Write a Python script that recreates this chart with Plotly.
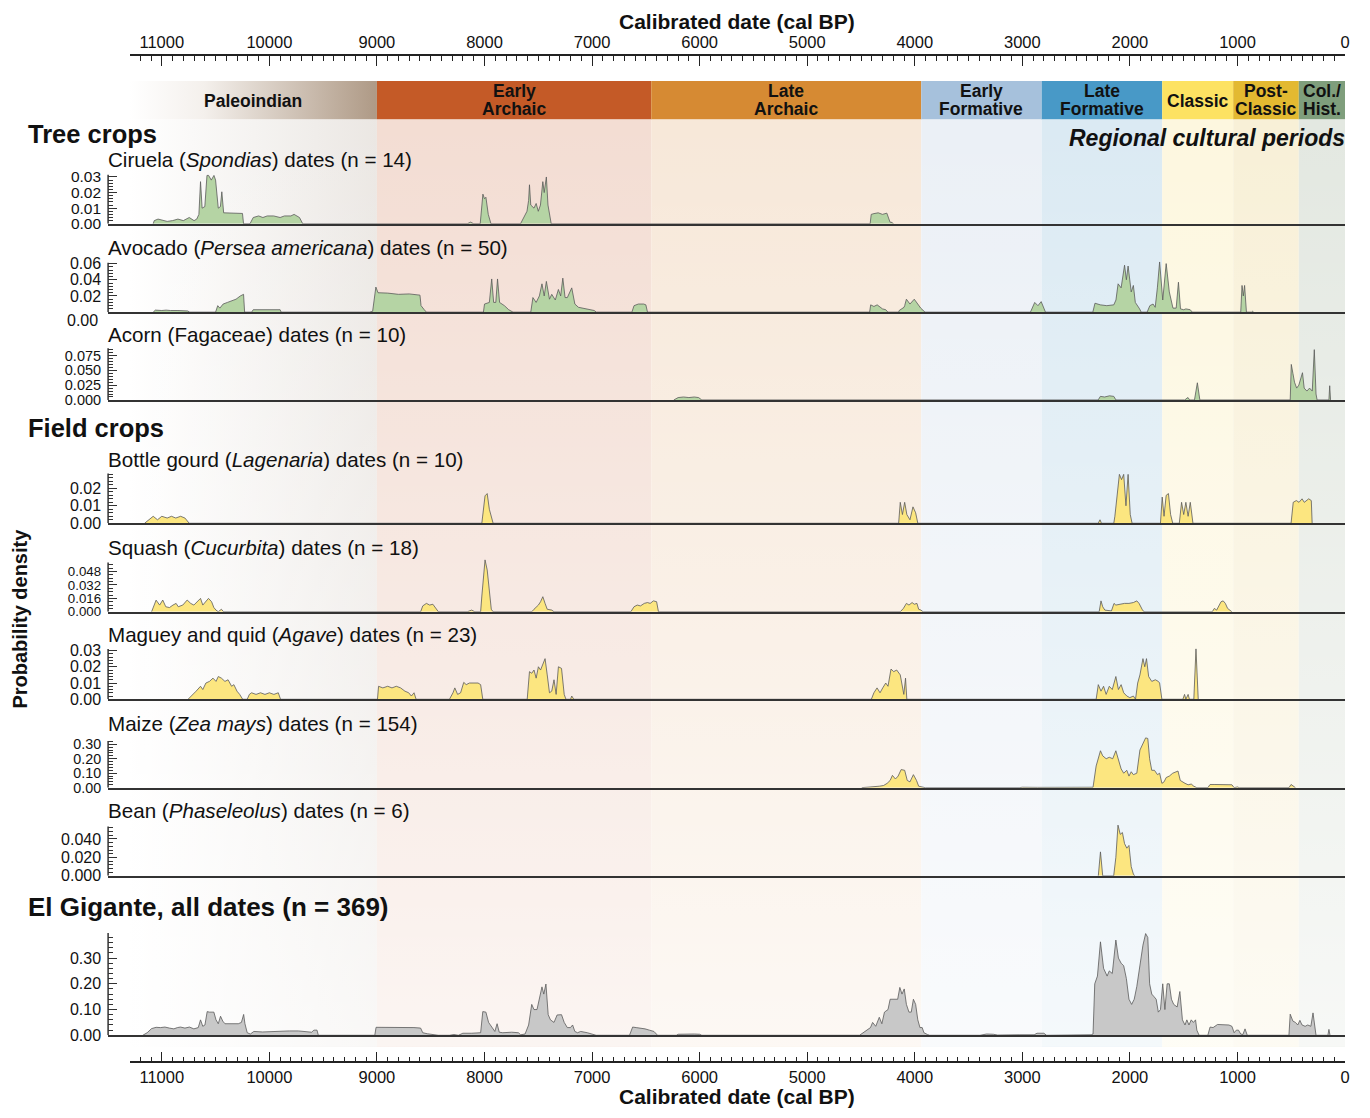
import plotly.graph_objects as go

# ---------------------------------------------------------------------------
# Regional cultural periods (cal BP)
# ---------------------------------------------------------------------------
PERIOD_LABELS = [["Paleoindian"], ["Early", "Archaic"], ["Late", "Archaic"],
                 ["Early", "Formative"], ["Late", "Formative"], ["Classic"],
                 ["Post-", "Classic"], ["Col./", "Hist."]]
PERIOD_START = [11300, 9000, 6450, 3940, 2820, 1700, 1040, 430]
PERIOD_END = [9000, 6450, 3940, 2820, 1700, 1040, 430, 0]

DATE_TICKS = [11000, 10000, 9000, 8000, 7000, 6000, 5000, 4000, 3000, 2000, 1000, 0]

# ---------------------------------------------------------------------------
# Summed probability densities: (cal BP, density)
# ---------------------------------------------------------------------------
CIRUELA = [
    (11080, 0), (11070, 0.002), (11035, 0.003), (11010, 0.0025), (10950, 0.0015), (10900, 0.002),
    (10850, 0.003), (10800, 0.002), (10745, 0.004), (10700, 0.002), (10675, 0.003), (10655, 0.006),
    (10640, 0.027), (10625, 0.01), (10600, 0.011), (10580, 0.031), (10565, 0.031), (10540, 0.028),
    (10515, 0.031), (10500, 0.028), (10475, 0.01), (10455, 0.011), (10442, 0.0205), (10425, 0.007),
    (10400, 0.007), (10330, 0.0068), (10250, 0.0066), (10240, 0),
    (10180, 0), (10150, 0.004), (10100, 0.005), (10060, 0.004), (10020, 0.005), (9960, 0.005),
    (9900, 0.004), (9860, 0.005), (9800, 0.005), (9770, 0.006), (9720, 0.004), (9690, 0),
    (8160, 0), (8130, 0.001), (8100, 0), (8040, 0), (8025, 0.012), (8015, 0.019), (8000, 0.016),
    (7987, 0.017), (7965, 0.006), (7940, 0),
    (7665, 0), (7645, 0.003), (7605, 0.008), (7590, 0.015), (7582, 0.025), (7570, 0.012),
    (7540, 0.01), (7520, 0.013), (7500, 0.008), (7480, 0.012), (7458, 0.027), (7445, 0.02),
    (7425, 0.03), (7410, 0.012), (7380, 0),
    (4415, 0), (4405, 0.006), (4380, 0.0065), (4340, 0.007), (4300, 0.006), (4260, 0.0068),
    (4230, 0.001), (4210, 0.0008), (4200, 0),
]

AVOCADO = [
    (11080, 0), (11060, 0.0025), (11000, 0.002), (10960, 0.0025), (10920, 0.002), (10880, 0.0025),
    (10850, 0.002), (10760, 0.0015), (10740, 0),
    (10500, 0), (10480, 0.008), (10460, 0.005), (10430, 0.01), (10390, 0.012), (10350, 0.014),
    (10310, 0.016), (10270, 0.02), (10240, 0.022), (10230, 0),
    (10165, 0), (10150, 0.003), (10100, 0.003), (10050, 0.0035), (9990, 0.003), (9900, 0.003), (9890, 0),
    (9070, 0), (9040, 0.001), (9010, 0.031), (8990, 0.024), (8900, 0.0235), (8800, 0.022),
    (8700, 0.0225), (8600, 0.021), (8590, 0.008), (8560, 0.003), (8540, 0),
    (8010, 0), (8000, 0.01), (7955, 0.012), (7933, 0.041), (7915, 0.012), (7895, 0.012),
    (7879, 0.041), (7860, 0.012), (7815, 0.008), (7775, 0.003), (7735, 0),
    (7570, 0), (7550, 0.018), (7520, 0.012), (7490, 0.02), (7466, 0.035), (7445, 0.02),
    (7425, 0.038), (7396, 0.016), (7375, 0.022), (7342, 0.015), (7313, 0.028), (7292, 0.02),
    (7272, 0.042), (7251, 0.018), (7230, 0.018), (7189, 0.03), (7160, 0.01), (7127, 0.006),
    (7044, 0.004), (6980, 0.002), (6960, 0),
    (6630, 0), (6610, 0.008), (6570, 0.01), (6520, 0.01), (6500, 0.009), (6485, 0),
    (4420, 0), (4410, 0.009), (4380, 0.007), (4350, 0.009), (4320, 0.006), (4300, 0.004),
    (4270, 0.003), (4250, 0),
    (4150, 0), (4145, 0.002), (4100, 0.006), (4094, 0.008), (4078, 0.016), (4045, 0.01),
    (4005, 0.016), (3970, 0.01), (3945, 0.005), (3905, 0),
    (2925, 0), (2885, 0.012), (2855, 0.008), (2825, 0.013), (2785, 0),
    (2345, 0), (2325, 0.011), (2275, 0.009), (2215, 0.008), (2150, 0.009), (2130, 0.015),
    (2110, 0.035), (2082, 0.03), (2050, 0.058), (2033, 0.04), (2017, 0.057), (1988, 0.025),
    (1968, 0.033), (1950, 0.012), (1910, 0.004), (1895, 0),
    (1840, 0), (1815, 0.008), (1785, 0.01), (1765, 0.006), (1745, 0.03), (1724, 0.062),
    (1695, 0.015), (1663, 0.06), (1634, 0.025), (1600, 0.005), (1570, 0.005), (1549, 0.037),
    (1530, 0.004), (1500, 0.003), (1480, 0.004), (1440, 0.003), (1420, 0),
    (970, 0), (958, 0.033), (946, 0.02), (934, 0.033), (917, 0), (870, 0), (860, 0.001), (850, 0),
]

ACORN = [
    (6240, 0), (6200, 0.004), (6150, 0.005), (6100, 0.004), (6050, 0.005), (6010, 0.004), (5980, 0),
    (2295, 0), (2275, 0.006), (2235, 0.005), (2190, 0.007), (2150, 0.006), (2130, 0),
    (1490, 0), (1470, 0.003), (1460, 0.004), (1445, 0),
    (1400, 0), (1373, 0.029), (1350, 0),
    (510, 0), (500, 0.06), (485, 0.045), (470, 0.03), (450, 0.02), (430, 0.025), (396, 0.046),
    (380, 0.02), (355, 0.015), (330, 0.02), (305, 0.015), (286, 0.085), (270, 0.01), (260, 0),
    (150, 0), (143, 0.024), (135, 0),
]

BOTTLE_GOURD = [
    (11160, 0), (11120, 0.002), (11080, 0.004), (11040, 0.002), (11000, 0.004), (10950, 0.003),
    (10910, 0.004), (10870, 0.003), (10825, 0.004), (10785, 0.003), (10745, 0),
    (8025, 0), (7995, 0.0157), (7975, 0.017), (7955, 0.008), (7933, 0.003), (7920, 0),
    (4150, 0), (4135, 0.012), (4115, 0.005), (4094, 0.012), (4074, 0.005), (4045, 0.002),
    (4017, 0.0094), (3992, 0.006), (3972, 0),
    (2295, 0), (2278, 0.002), (2265, 0), (2150, 0), (2140, 0.004), (2098, 0.028), (2078, 0.025),
    (2058, 0.028), (2037, 0.01), (2017, 0.028), (1997, 0.005), (1980, 0),
    (1716, 0), (1700, 0.015), (1683, 0.004), (1663, 0.016), (1642, 0.017), (1622, 0.005), (1602, 0),
    (1541, 0), (1520, 0.012), (1500, 0.005), (1480, 0.012), (1459, 0.004), (1439, 0.012), (1414, 0),
    (502, 0), (482, 0.012), (453, 0.013), (428, 0.012), (400, 0.014), (379, 0.012), (359, 0.013),
    (338, 0.014), (314, 0.013), (306, 0),
]

SQUASH = [
    (11095, 0), (11053, 0.0139), (11020, 0.008), (10991, 0.014), (10963, 0.006), (10929, 0.005),
    (10896, 0.008), (10867, 0.01), (10847, 0.006), (10805, 0.008), (10764, 0.014), (10731, 0.01),
    (10702, 0.008), (10673, 0.012), (10640, 0.016), (10619, 0.008), (10590, 0.012), (10566, 0.016),
    (10537, 0.012), (10516, 0.005), (10496, 0.002), (10475, 0), (10446, 0.003), (10425, 0),
    (8594, 0), (8574, 0.007), (8540, 0.01), (8510, 0.008), (8480, 0.009), (8450, 0.004), (8429, 0),
    (8160, 0), (8140, 0.001), (8120, 0.002), (8090, 0), (8036, 0), (8024, 0.02), (8008, 0.05),
    (7995, 0.062), (7975, 0.05), (7954, 0.02), (7937, 0.003), (7920, 0),
    (7561, 0), (7540, 0.003), (7499, 0.008), (7479, 0.012), (7458, 0.018), (7437, 0.01),
    (7417, 0.003), (7375, 0.002), (7354, 0),
    (6640, 0), (6610, 0.006), (6580, 0.008), (6550, 0.007), (6515, 0.01), (6485, 0.011),
    (6460, 0.01), (6430, 0.013), (6400, 0.012), (6383, 0),
    (4135, 0), (4106, 0.004), (4078, 0.01), (4054, 0.008), (4025, 0.011), (4005, 0.009),
    (3980, 0.01), (3964, 0.003), (3943, 0.002), (3923, 0),
    (2286, 0), (2269, 0.013), (2253, 0.006), (2233, 0.002), (2172, 0.001), (2148, 0.01),
    (2131, 0.008), (2090, 0.009), (2050, 0.01), (2009, 0.01), (1968, 0.011), (1936, 0.013),
    (1915, 0.01), (1887, 0.003), (1870, 0),
    (1235, 0), (1215, 0.004), (1194, 0.002), (1153, 0.012), (1133, 0.013), (1113, 0.01),
    (1092, 0.004), (1052, 0),
]

MAGUEY = [
    (10756, 0), (10723, 0.002), (10681, 0.005), (10640, 0.008), (10619, 0.006), (10590, 0.01),
    (10557, 0.011), (10524, 0.013), (10496, 0.011), (10475, 0.014), (10446, 0.013), (10413, 0.011),
    (10384, 0.012), (10351, 0.008), (10330, 0.009), (10301, 0.005), (10276, 0.003), (10248, 0),
    (10206, 0), (10186, 0.003), (10165, 0.004), (10124, 0.003), (10082, 0.004), (10041, 0.003),
    (10000, 0.004), (9958, 0.003), (9917, 0.004), (9896, 0),
    (8995, 0), (8985, 0.008), (8945, 0.007), (8900, 0.008), (8860, 0.007), (8820, 0.008),
    (8780, 0.007), (8740, 0.005), (8705, 0.004), (8680, 0.002), (8655, 0.004), (8636, 0),
    (8326, 0), (8293, 0.004), (8276, 0.007), (8250, 0.003), (8222, 0.004), (8193, 0.0104),
    (8170, 0.009), (8140, 0.01), (8100, 0.01), (8060, 0.01), (8036, 0.009), (8016, 0),
    (7603, 0), (7582, 0.017), (7561, 0.016), (7540, 0.018), (7520, 0.013), (7499, 0.02),
    (7479, 0.018), (7458, 0.022), (7437, 0.025), (7417, 0.015), (7396, 0.004), (7375, 0.005),
    (7354, 0.012), (7334, 0.003), (7313, 0.02), (7284, 0.019), (7259, 0.003), (7243, 0),
    (7200, 0), (7189, 0.002), (7170, 0),
    (4404, 0), (4380, 0.004), (4351, 0.007), (4323, 0.004), (4298, 0.007), (4270, 0.01),
    (4249, 0.008), (4221, 0.0186), (4196, 0.017), (4168, 0.018), (4135, 0.015), (4119, 0.01),
    (4102, 0.003), (4086, 0.013), (4074, 0),
    (2314, 0), (2294, 0.009), (2269, 0.005), (2245, 0.008), (2221, 0.003), (2192, 0.008),
    (2164, 0.006), (2131, 0.014), (2107, 0.006), (2082, 0.009), (2058, 0.004), (2029, 0.002),
    (2001, 0.001), (1968, 0.002), (1948, 0), (1928, 0.01), (1907, 0.015), (1879, 0.025),
    (1862, 0.02), (1846, 0.025), (1826, 0.014), (1797, 0.011), (1764, 0.012), (1736, 0.011),
    (1724, 0.01), (1703, 0),
    (1508, 0), (1492, 0.003), (1480, 0), (1459, 0.003), (1447, 0), (1406, 0), (1386, 0.031), (1365, 0),
]

MAIZE = [
    (4493, 0), (4470, 0.001), (4412, 0.004), (4330, 0.01), (4290, 0.015), (4257, 0.03),
    (4229, 0.05), (4208, 0.085), (4180, 0.06), (4155, 0.08), (4127, 0.125), (4094, 0.12),
    (4070, 0.05), (4045, 0.04), (4013, 0.09), (3984, 0.05), (3964, 0.01), (3923, 0.003), (3903, 0),
    (3030, 0), (3000, 0.003), (2860, 0.002), (2740, 0.002), (2660, 0.004), (2620, 0),
    (2500, 0), (2480, 0.002), (2360, 0.002),
    (2343, 0.003), (2314, 0.15), (2294, 0.2), (2274, 0.255), (2253, 0.22), (2221, 0.2),
    (2192, 0.21), (2160, 0.2), (2131, 0.255), (2107, 0.19), (2082, 0.13), (2058, 0.1),
    (2029, 0.12), (2009, 0.08), (1988, 0.11), (1968, 0.09), (1936, 0.1), (1907, 0.26),
    (1879, 0.3), (1854, 0.344), (1834, 0.34), (1817, 0.2), (1797, 0.12), (1772, 0.12),
    (1744, 0.09), (1724, 0.1), (1703, 0.03), (1683, 0.04), (1663, 0.07), (1634, 0.08),
    (1602, 0.1), (1573, 0.11), (1553, 0.115), (1532, 0.05), (1512, 0.04), (1488, 0.03),
    (1459, 0.02), (1430, 0.025), (1406, 0.01), (1378, 0),
    (1276, 0), (1255, 0.022), (1210, 0.022), (1150, 0.023), (1090, 0.022), (1052, 0.02),
    (1031, 0), (1000, 0.005), (985, 0),
    (522, 0), (502, 0.022), (482, 0.01), (461, 0),
]

BEAN = [
    (2294, 0), (2274, 0.026), (2253, 0),
    (2151, 0), (2131, 0.02), (2111, 0.055), (2090, 0.045), (2070, 0.047), (2050, 0.035),
    (2029, 0.03), (2009, 0.033), (1988, 0.01), (1968, 0.002), (1956, 0),
]

ALL_DATES = [
    (11177, 0), (11136, 0.01), (11095, 0.026), (11053, 0.031), (11012, 0.03), (10971, 0.032),
    (10929, 0.028), (10888, 0.025), (10855, 0.03), (10826, 0.032), (10785, 0.028), (10743, 0.032),
    (10702, 0.025), (10661, 0.03), (10640, 0.06), (10619, 0.035), (10599, 0.04), (10578, 0.092),
    (10557, 0.09), (10516, 0.09), (10496, 0.06), (10475, 0.045), (10454, 0.074), (10433, 0.055),
    (10413, 0.045), (10351, 0.045), (10289, 0.045), (10260, 0.05), (10239, 0.081), (10227, 0.045),
    (10206, 0.01), (10177, 0.005), (10144, 0.015), (10062, 0.013), (9979, 0.015), (9896, 0.017),
    (9814, 0.017), (9731, 0.017), (9648, 0.015), (9607, 0.012), (9586, 0.02), (9557, 0.02), (9545, 0),
    (9020, 0), (9008, 0.031), (8904, 0.031), (8780, 0.03), (8656, 0.03), (8594, 0.028),
    (8574, 0.01), (8532, 0.006), (8470, 0.003), (8429, 0),
    (8326, 0), (8284, 0.003), (8243, 0), (8201, 0.008), (8119, 0.008), (8036, 0.01),
    (8016, 0.092), (7987, 0.09), (7962, 0.05), (7933, 0.03), (7904, 0.015), (7883, 0.045),
    (7863, 0.012), (7830, 0.01), (7747, 0.012), (7685, 0.01), (7664, 0.002),
    (7623, 0.005), (7590, 0.04), (7561, 0.12), (7540, 0.1), (7512, 0.1), (7491, 0.138),
    (7466, 0.188), (7449, 0.16), (7429, 0.199), (7408, 0.08), (7387, 0.06), (7354, 0.05),
    (7325, 0.079), (7284, 0.08), (7259, 0.05), (7230, 0.03), (7201, 0.03), (7181, 0.04),
    (7160, 0.015), (7135, 0.01), (7106, 0.015), (7044, 0.01), (7003, 0.005), (6962, 0),
    (6652, 0), (6623, 0.032), (6590, 0.03), (6550, 0.028), (6508, 0.025), (6467, 0.02),
    (6425, 0.015), (6391, 0),
    (6217, 0), (6200, 0.004), (6150, 0.005), (6100, 0.004), (6050, 0.005), (6000, 0.004), (5980, 0),
    (4514, 0), (4412, 0.03), (4392, 0.05), (4363, 0.035), (4330, 0.07), (4306, 0.045),
    (4282, 0.09), (4249, 0.1), (4229, 0.14), (4188, 0.14), (4159, 0.14), (4139, 0.186),
    (4119, 0.16), (4098, 0.18), (4078, 0.12), (4054, 0.09), (4033, 0.09), (4013, 0.14),
    (3992, 0.12), (3972, 0.06), (3952, 0.03), (3931, 0.03), (3915, 0.01), (3882, 0.003), (3862, 0),
    (3394, 0), (3333, 0.005), (3270, 0.004), (3230, 0.001), (3030, 0.002), (2890, 0.002),
    (2864, 0.008), (2830, 0.008), (2800, 0.008), (2775, 0), (2498, 0), (2480, 0.002), (2360, 0.002),
    (2343, 0.005), (2327, 0.2), (2302, 0.23), (2274, 0.363), (2245, 0.26), (2212, 0.23),
    (2192, 0.25), (2164, 0.24), (2131, 0.37), (2107, 0.3), (2082, 0.28), (2058, 0.27),
    (2033, 0.22), (2009, 0.14), (1984, 0.12), (1960, 0.14), (1936, 0.19), (1907, 0.28),
    (1879, 0.35), (1854, 0.395), (1834, 0.38), (1817, 0.2), (1797, 0.16), (1776, 0.15),
    (1756, 0.14), (1736, 0.09), (1716, 0.1), (1695, 0.2), (1675, 0.1), (1654, 0.2),
    (1634, 0.2), (1614, 0.14), (1593, 0.12), (1561, 0.11), (1536, 0.17), (1512, 0.06),
    (1488, 0.04), (1471, 0.06), (1451, 0.04), (1430, 0.06), (1410, 0.05), (1390, 0.06),
    (1378, 0.02), (1357, 0),
    (1276, 0), (1255, 0.032), (1227, 0.03), (1186, 0.042), (1133, 0.04), (1080, 0.04),
    (1052, 0.035), (1031, 0.01), (1011, 0.02), (991, 0.02), (970, 0.005), (950, 0.003),
    (930, 0.025), (917, 0.003), (909, 0),
    (522, 0), (510, 0.082), (485, 0.055), (461, 0.05), (440, 0.04), (420, 0.058), (400, 0.04),
    (371, 0.035), (347, 0.04), (318, 0.035), (298, 0.087), (280, 0.02), (270, 0),
    (160, 0), (150, 0.023), (140, 0),
]

# ---------------------------------------------------------------------------
# Page geometry (pixels) and styling
# ---------------------------------------------------------------------------
W, H = 1370, 1118
AXIS_LEFT, PLOT_RIGHT, PANEL_LEFT = 130, 1350, 108.5
OLDEST = 11300
PX_PER_YEAR = (PLOT_RIGHT - AXIS_LEFT) / OLDEST
HEAD_TOP, BAND_TOP, BAND_BOTTOM = 76, 115, 1055
TOP_AXIS_Y, BOTTOM_AXIS_Y = 50, 1070.7

FONT = "Liberation Sans, Arial, sans-serif"
INK = "#111111"
AXIS_INK = "#333333"

PALEO_HEAD = [[0, "#ffffff"], [0.3, "#f4f0ec"], [1, "#ae9985"]]
PALEO_BAND = [[0, "#ffffff"], [1, "#ebe7e3"]]
HEAD_COLORS = [None, "#c45a27", "#d68a33", "#a6c1dc", "#4899c7", "#fde262", "#e3b931", "#7f9e7c"]
BAND_COLORS = [None, "#f3ddd3", "#f7e8d9", "#ebf0f6", "#dbeaf3", "#fdf7df", "#f8f0d7", "#e3e8e1"]

TREE_FILL, FIELD_FILL, ALL_FILL = "#b5d4a4", "#fce680", "#c8c8c8"
EDGE = "#5a5a5a"


def fx(px):
    return px / W


def fy(py):
    return 1 - py / H


def split(pairs):
    return [p[0] for p in pairs], [p[1] for p in pairs]


fig = go.Figure()

# ---- period header boxes and shaded bands (background subplot x/y) -------
for i, (s, e) in enumerate(zip(PERIOD_START, PERIOD_END)):
    box_x = [s, e, e, s, s]
    head_y = [fy(HEAD_TOP), fy(HEAD_TOP), fy(BAND_TOP), fy(BAND_TOP), fy(HEAD_TOP)]
    band_y = [fy(BAND_TOP), fy(BAND_TOP), fy(BAND_BOTTOM), fy(BAND_BOTTOM), fy(BAND_TOP)]
    for ys, solid, grad in ((head_y, HEAD_COLORS[i], PALEO_HEAD), (band_y, BAND_COLORS[i], PALEO_BAND)):
        tr = dict(x=box_x, y=ys, mode="lines", fill="toself", line=dict(width=0),
                  hoverinfo="skip", showlegend=False, xaxis="x", yaxis="y")
        if solid is None:
            tr["fillgradient"] = dict(type="horizontal", colorscale=grad, start=s, stop=e)
        else:
            tr["fillcolor"] = solid
        fig.add_trace(go.Scatter(**tr))

# soft fade of the bands towards the bottom of the page
fig.add_trace(go.Scatter(
    x=[PERIOD_START[0], PERIOD_END[-1], PERIOD_END[-1], PERIOD_START[0], PERIOD_START[0]],
    y=[fy(BAND_TOP), fy(BAND_TOP), fy(BAND_BOTTOM), fy(BAND_BOTTOM), fy(BAND_TOP)],
    mode="lines", fill="toself", line=dict(width=0), hoverinfo="skip", showlegend=False,
    fillgradient=dict(type="vertical", start=fy(BAND_BOTTOM), stop=fy(BAND_TOP),
                      colorscale=[[0, "rgba(255,255,255,0.72)"], [1, "rgba(255,255,255,0)"]]),
    xaxis="x11", yaxis="y"))

# ---- density panels --------------------------------------------------------
# (series, fill, baseline px, px per density unit, axis top, major ticks, labels,
#  minor step, tick label size)
PANELS = [
    (CIRUELA, TREE_FILL, 220.7, 1580, 0.0315, [0, 0.01, 0.02, 0.03], ["0.00", "0.01", "0.02", "0.03"], 0.002, 15.5),
    (AVOCADO, TREE_FILL, 310.3, 820, 0.061, [0.02, 0.04, 0.06], ["0.02", "0.04", "0.06"], 0.004, 16),
    (ACORN, TREE_FILL, 399.3, 600, 0.0875, [0, 0.025, 0.05, 0.075], ["0.000", "0.025", "0.050", "0.075"], 0.005, 14.5),
    (BOTTLE_GOURD, FIELD_FILL, 524.3, 1770, 0.0285, [0, 0.01, 0.02], ["0.00", "0.01", "0.02"], 0.002, 16),
    (SQUASH, FIELD_FILL, 614.0, 848, 0.059, [0, 0.016, 0.032, 0.048], ["0.000", "0.016", "0.032", "0.048"], 0.004, 13.3),
    (MAGUEY, FIELD_FILL, 702.7, 1647, 0.031, [0, 0.01, 0.02, 0.03], ["0.00", "0.01", "0.02", "0.03"], 0.002, 16),
    (MAIZE, FIELD_FILL, 792.3, 146.7, 0.3225, [0, 0.1, 0.2, 0.3], ["0.00", "0.10", "0.20", "0.30"], 0.02, 14.3),
    (BEAN, FIELD_FILL, 881.7, 935, 0.0535, [0, 0.02, 0.04], ["0.000", "0.020", "0.040"], 0.004, 16),
    (ALL_DATES, ALL_FILL, 1043.3, 261, 0.397, [0, 0.1, 0.2, 0.3], ["0.00", "0.10", "0.20", "0.30"], 0.02, 16),
]

layout_axes = {}
shapes = []
panel_left_year = (PLOT_RIGHT - PANEL_LEFT) / PX_PER_YEAR

for k, (series, fill, base, ppu, top, tv, tt, mstep, tsize) in enumerate(PANELS, start=2):
    xs, ys = split(series)
    rtop = max(top, max(ys) * 1.03)
    fig.add_trace(go.Scatter(
        x=xs, y=ys, mode="lines", fill="tozeroy", fillcolor=fill,
        line=dict(color=EDGE, width=0.8), hoverinfo="skip", showlegend=False,
        xaxis=f"x{k}", yaxis=f"y{k}"))
    minor_vals = []
    m = 0.0
    while m <= top + 1e-9:
        minor_vals.append(round(m, 6))
        m += mstep
    layout_axes[f"xaxis{k}"] = dict(
        domain=[fx(PANEL_LEFT), fx(PLOT_RIGHT)], range=[panel_left_year, 0], anchor=f"y{k}",
        showline=True, linecolor=AXIS_INK, linewidth=1.5, ticks="", showticklabels=False,
        showgrid=False, zeroline=False, fixedrange=True)
    layout_axes[f"yaxis{k}"] = dict(
        domain=[fy(base), fy(base - rtop * ppu)], range=[0, rtop], anchor=f"x{k}",
        showline=False, showgrid=False, zeroline=False, fixedrange=True,
        tickmode="array", tickvals=tv, ticktext=tt, ticks="inside", ticklen=9,
        tickwidth=1.2, tickcolor=AXIS_INK, ticklabelstandoff=6,
        tickfont=dict(family=FONT, size=tsize, color=INK),
        minor=dict(tickmode="array", tickvals=minor_vals, ticks="inside", ticklen=5,
                   tickwidth=1, tickcolor=AXIS_INK))
    shapes.append(dict(type="line", xref=f"x{k} domain", x0=0, x1=0, yref=f"y{k}", y0=0, y1=top,
                       line=dict(color=AXIS_INK, width=1.5), layer="above"))

# ---- shared date axes --------------------------------------------------------
date_axis = dict(
    range=[OLDEST, 0], domain=[fx(AXIS_LEFT), fx(PLOT_RIGHT)], anchor="free",
    showline=True, linecolor="#222222", linewidth=1.5, showgrid=False, zeroline=False,
    tickmode="array", tickvals=DATE_TICKS, ticktext=[str(t) for t in DATE_TICKS],
    ticks="inside", ticklen=10, tickwidth=1.3, tickcolor="#222222",
    minor=dict(dtick=100, tick0=0, ticks="inside", ticklen=5, tickwidth=1, tickcolor="#222222"),
    tickfont=dict(family=FONT, size=16.5, color=INK), fixedrange=True)

layout_axes["xaxis"] = dict(date_axis, side="top", position=fy(TOP_AXIS_Y))
layout_axes["xaxis11"] = dict(date_axis, side="bottom", position=fy(BOTTOM_AXIS_Y), overlaying="x")
layout_axes["yaxis"] = dict(domain=[0, 1], range=[0, 1], visible=False, fixedrange=True)

# ---- text ---------------------------------------------------------------------
ann = []


def text(s, xpx, ypx, size, xanchor="left", bold=False, italic=False, **kw):
    if bold:
        s = f"<b>{s}</b>"
    if italic:
        s = f"<i>{s}</i>"
    ann.append(dict(text=s, x=fx(xpx), y=fy(ypx), xref="paper", yref="paper",
                    xanchor=xanchor, yanchor="middle", showarrow=False,
                    font=dict(family=FONT, size=size, color=INK), **kw))


# period names in the header row
for lines, s, e in zip(PERIOD_LABELS, PERIOD_START, PERIOD_END):
    mid = (s + e) / 2
    ys = [96.5] if len(lines) == 1 else [86.5, 104.5]
    for line, ypx in zip(lines, ys):
        ann.append(dict(text=f"<b>{line}</b>", x=mid, xref="x", y=fy(ypx), yref="paper",
                        xanchor="center", yanchor="middle", showarrow=False,
                        font=dict(family=FONT, size=17.5, color=INK)))

text("Calibrated date (cal BP)", 740, 16, 21, xanchor="center", bold=True)
text("Calibrated date (cal BP)", 740, 1105, 21, xanchor="center", bold=True)
text("Regional cultural periods", 1352, 134, 23, xanchor="right", bold=True, italic=True)

text("Tree crops", 26, 130, 25.5, bold=True)
text("Field crops", 26, 428, 25.5, bold=True)
text("El Gigante, all dates (n = 369)", 26, 913, 26, bold=True)

PANEL_TITLES = [
    ("Ciruela (<i>Spondias</i>) dates (n = 14)", 156),
    ("Avocado (<i>Persea americana</i>) dates (n = 50)", 245),
    ("Acorn (Fagaceae) dates (n = 10)", 333),
    ("Bottle gourd (<i>Lagenaria</i>) dates (n = 10)", 460),
    ("Squash (<i>Cucurbita</i>) dates (n = 18)", 549),
    ("Maguey and quid (<i>Agave</i>) dates (n = 23)", 637),
    ("Maize (<i>Zea mays</i>) dates (n = 154)", 727),
    ("Bean (<i>Phaseleolus</i>) dates (n = 6)", 815),
]
for t, ypx in PANEL_TITLES:
    text(t, 106, ypx, 20.6)

# zero label of the avocado panel sits just below its baseline
text("0.00", 100, 319, 16, xanchor="right")

ann.append(dict(text="<b>Probability density</b>", x=fx(20), y=fy(621), xref="paper", yref="paper",
                xanchor="center", yanchor="middle", textangle=-90, showarrow=False,
                font=dict(family=FONT, size=20, color=INK)))

fig.update_layout(
    width=W, height=H, margin=dict(l=0, r=0, t=0, b=0),
    paper_bgcolor="white", plot_bgcolor="rgba(0,0,0,0)",
    showlegend=False, hovermode=False, font=dict(family=FONT, color=INK),
    annotations=ann, shapes=shapes, **layout_axes)

fig.write_html("out.html")
